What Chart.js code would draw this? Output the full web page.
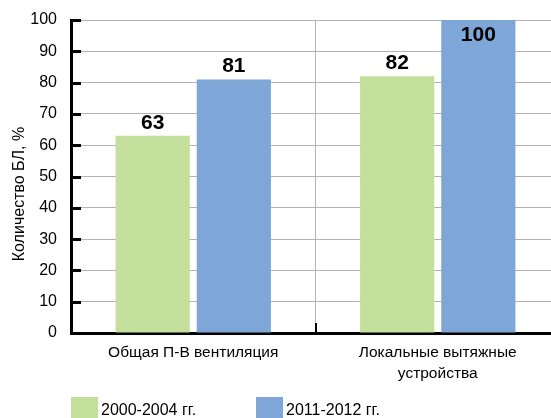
<!DOCTYPE html>
<html>
<head>
<meta charset="utf-8">
<script src="https://cdn.jsdelivr.net/npm/chart.js@4.4.1/dist/chart.umd.min.js"></script>
<style>
  html, body { margin: 0; padding: 0; background: #fff; overflow: hidden; }
  #wrap { position: relative; width: 551px; height: 418px; overflow: hidden; }
  #chart { position: absolute; left: 0; top: 0; }
  .leg { position: absolute; font-family: "Liberation Sans", Arial, sans-serif; font-size: 16px; line-height: 1; color: #000; white-space: nowrap; }
  .box { position: absolute; width: 27px; height: 21px; }
</style>
</head>
<body>
<div id="wrap">
  <canvas id="chart" width="560" height="418"></canvas>
  <div id="legend"></div>
</div>
<script>
const categories = [['Общая П-В вентиляция'], ['Локальные вытяжные', 'устройства']];
const seriesNames = ['2000-2004 гг.', '2011-2012 гг.'];
const values2000 = [63, 82];
const values2011 = [81, 100];
const seriesColors = ['#c4df9b', '#7ea7d8'];
const yTicks = [0, 10, 20, 30, 40, 50, 60, 70, 80, 90, 100];
const yTitle = 'Количество БЛ, %';

const fontFamily = '"Liberation Sans", Arial, sans-serif';

// tick marks pointing into the plot, like the original
const innerTicks = {
    id: 'innerTicks',
    afterDraw(chart) {
        const ctx = chart.ctx;
        const area = chart.chartArea;
        const y = chart.scales.y;
        const x = chart.scales.x;
        ctx.save();
        ctx.strokeStyle = '#000';
        ctx.lineWidth = 3;
        y.ticks.forEach((t, i) => {
            const py = Math.round(y.getPixelForTick(i)) + 0.5;
            ctx.beginPath();
            ctx.moveTo(area.left, py);
            ctx.lineTo(area.left + 10, py);
            ctx.stroke();
        });
        ctx.lineWidth = 2;
        for (let i = 0; i < x.ticks.length - 1; i++) {
            const px = Math.round((x.getPixelForTick(i) + x.getPixelForTick(i + 1)) / 2);
            ctx.beginPath();
            ctx.moveTo(px, area.bottom);
            ctx.lineTo(px, area.bottom - 10);
            ctx.stroke();
        }
        // axis title, sits a bit below the middle of the axis in the original
        ctx.font = '16px ' + fontFamily;
        ctx.fillStyle = '#000';
        ctx.textAlign = 'center';
        ctx.textBaseline = 'middle';
        ctx.translate(20, 194);
        ctx.rotate(-Math.PI / 2);
        ctx.fillText(yTitle, 0, 0);
        ctx.restore();
    }
};

const valueLabels = {
    id: 'valueLabels',
    afterDatasetsDraw(chart) {
        const ctx = chart.ctx;
        const area = chart.chartArea;
        ctx.save();
        ctx.font = 'bold 21px ' + fontFamily;
        ctx.fillStyle = '#000';
        ctx.textAlign = 'center';
        ctx.textBaseline = 'alphabetic';
        chart.data.datasets.forEach((ds, di) => {
            chart.getDatasetMeta(di).data.forEach((bar, i) => {
                if (bar.y - 28 < area.top) {
                    ctx.fillText(ds.data[i], bar.x, bar.y + 21);
                } else {
                    ctx.fillText(ds.data[i], bar.x, bar.y - 7);
                }
            });
        });
        ctx.restore();
    }
};

const ctx = document.getElementById('chart').getContext('2d');
new Chart(ctx, {
    type: 'bar',
    data: {
        labels: categories,
        datasets: [{
            label: seriesNames[0],
            data: values2000,
            backgroundColor: seriesColors[0],
            categoryPercentage: 0.664,
            barPercentage: 0.914
        }, {
            label: seriesNames[1],
            data: values2011,
            backgroundColor: seriesColors[1],
            categoryPercentage: 0.664,
            barPercentage: 0.914
        }]
    },
    options: {
        responsive: false,
        devicePixelRatio: 1,
        animation: false,
        layout: { padding: { top: 20, right: 0, bottom: 0, left: 0 } },
        plugins: {
            legend: { display: false },
            tooltip: { enabled: false }
        },
        scales: {
            x: {
                grid: { color: '#b3b3b3', lineWidth: 1, drawTicks: false, offset: true },
                border: { color: '#000', width: 3 },
                ticks: {
                    color: '#000',
                    padding: 10,
                    maxRotation: 0,
                    font: { family: fontFamily, size: 15.5, lineHeight: 1.3 }
                },
                afterFit(scale) {
                    scale.height = 85;
                    scale.paddingLeft = 0;
                    scale.paddingRight = 0;
                }
            },
            y: {
                min: 0,
                max: 100,
                afterBuildTicks(scale) { scale.ticks = yTicks.map(v => ({ value: v })); },
                grid: { color: '#b3b3b3', lineWidth: 1, drawTicks: false },
                border: { color: '#000', width: 3 },
                ticks: {
                    color: '#000',
                    padding: 14,
                    font: { family: fontFamily, size: 16 }
                },
                afterFit(scale) {
                    scale.width = 71;
                    scale.paddingTop = 0;
                    scale.paddingBottom = 0;
                }
            }
        }
    },
    plugins: [innerTicks, valueLabels]
});

// legend laid out like the original, under the axis labels
const legend = document.getElementById('legend');
const legendX = [71, 256];
seriesNames.forEach((name, i) => {
    const box = document.createElement('div');
    box.className = 'box';
    box.style.left = legendX[i] + 'px';
    box.style.top = '397px';
    box.style.background = seriesColors[i];
    legend.appendChild(box);
    const txt = document.createElement('div');
    txt.className = 'leg';
    txt.style.left = (legendX[i] + 30) + 'px';
    txt.style.top = '402px';
    txt.textContent = name;
    legend.appendChild(txt);
});
</script>
</body>
</html>
